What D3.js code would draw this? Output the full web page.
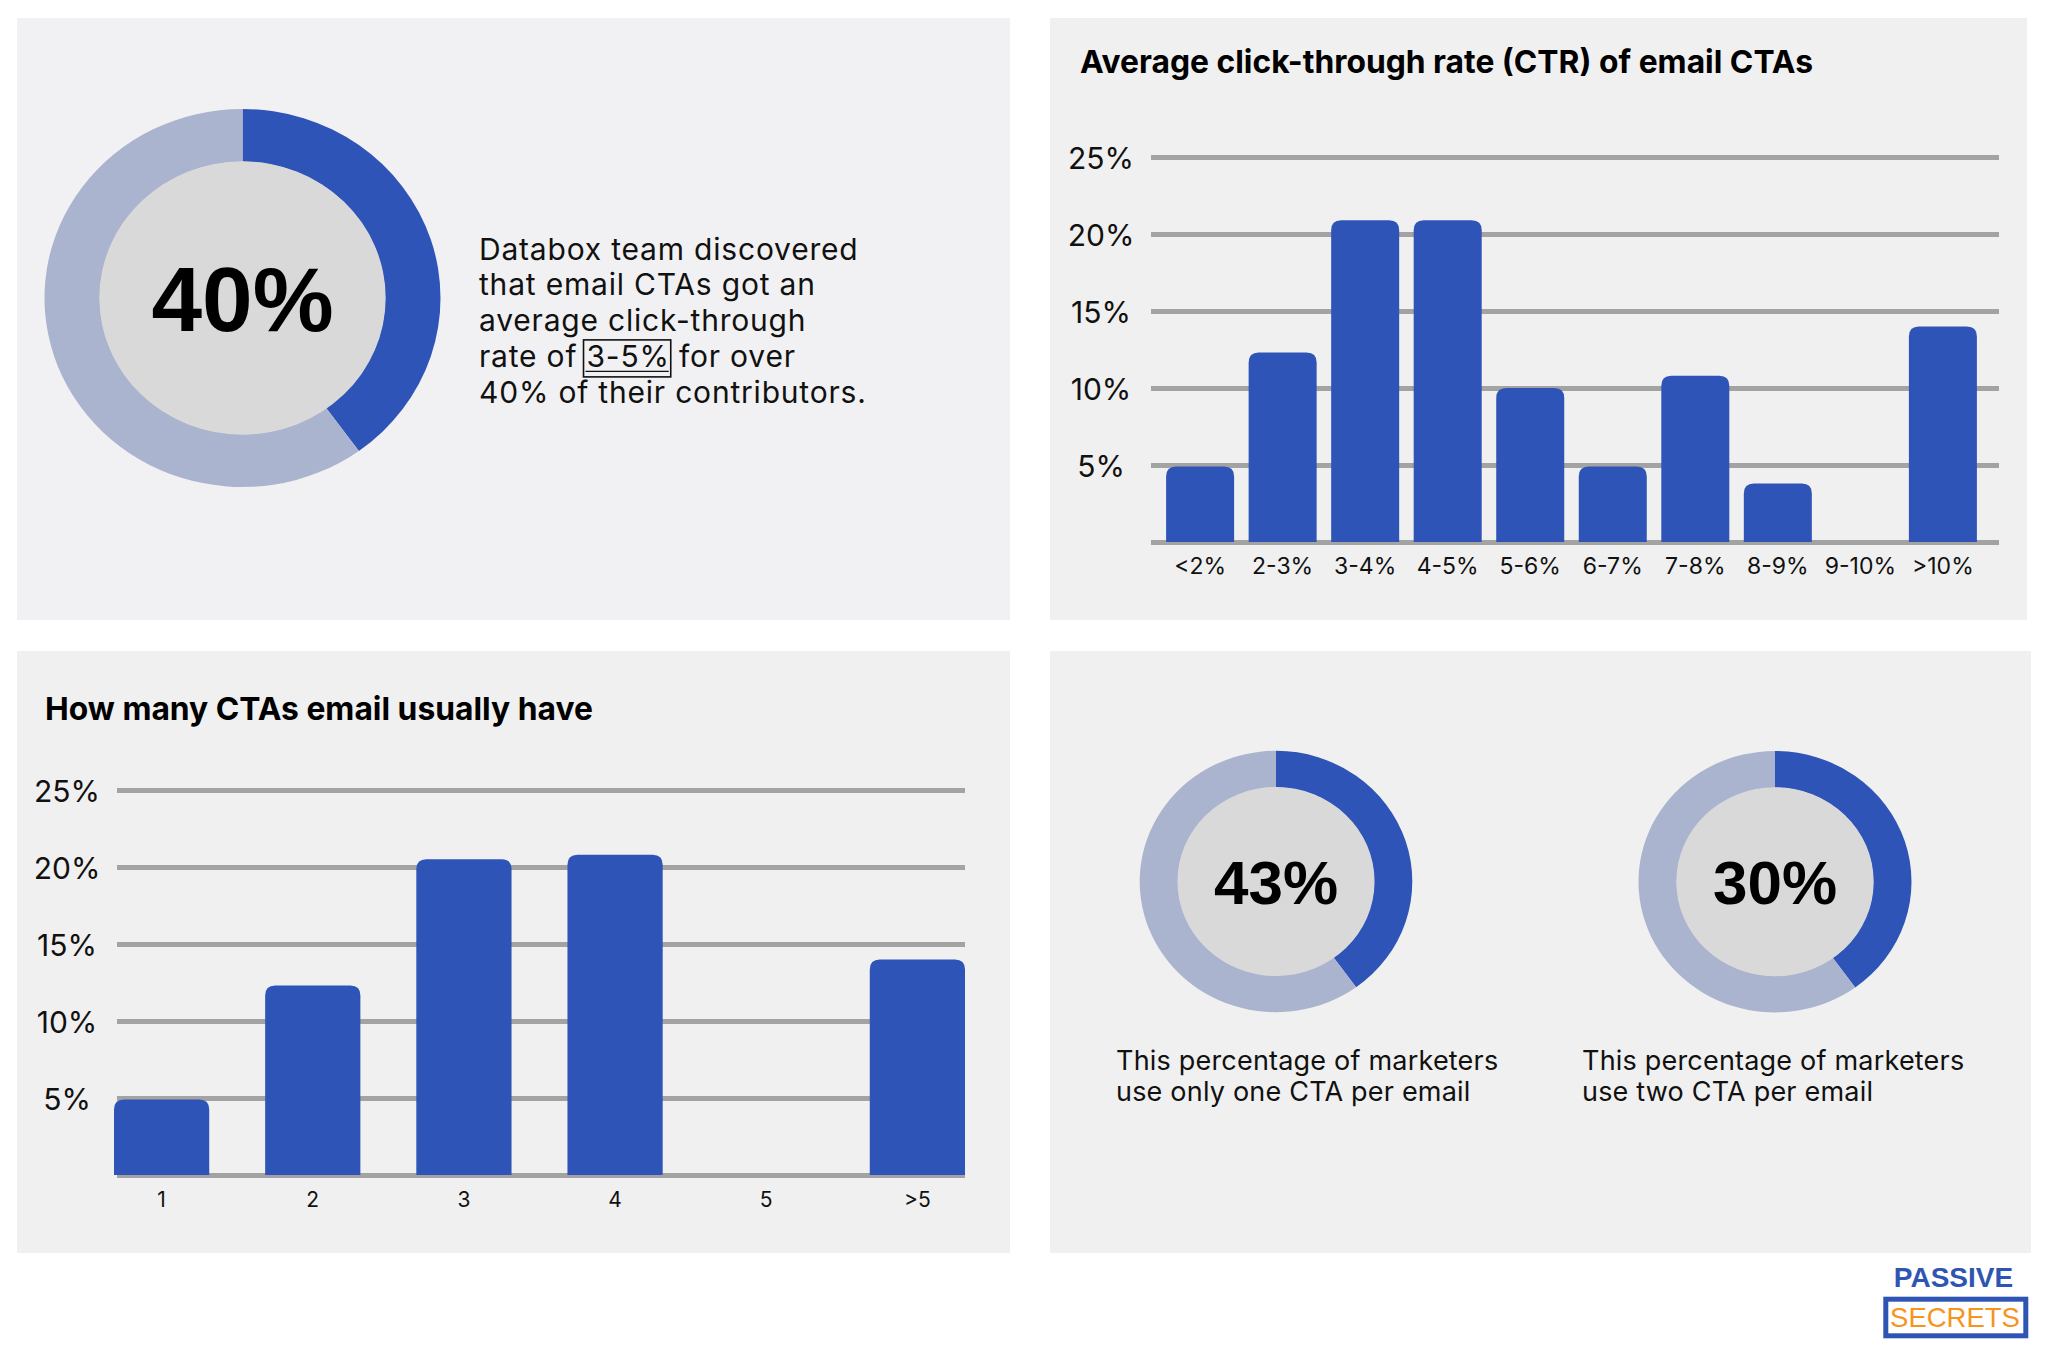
<!DOCTYPE html>
<html>
<head>
<meta charset="utf-8">
<script src="https://cdn.jsdelivr.net/npm/d3@7"></script>
<style>
  html, body { margin: 0; padding: 0; background: #ffffff; }
  svg { display: block; }
</style>
</head>
<body>
<svg id="chart" width="2048" height="1352"></svg>
<script>
// ---------------- DATA ----------------
const ctrCategories = ["<2%", "2-3%", "3-4%", "4-5%", "5-6%", "6-7%", "7-8%", "8-9%", "9-10%", ">10%"];
const ctrValues     = [4.9, 12.3, 20.9, 20.9, 10.0, 4.9, 10.8, 3.8, 0, 14.0];

const ctaCategories = ["1", "2", "3", "4", "5", ">5"];
const ctaValues     = [4.9, 12.3, 20.5, 20.8, 0, 14.0];

const yTickValues = [0, 5, 10, 15, 20, 25];

const donutLabels = ["40%", "43%", "30%"];
const donutShares = [40, 40, 40];   // blue share of ring as drawn in the picture

const ctrTitle = "Average click-through rate (CTR) of email CTAs";
const ctaTitle = "How many CTAs email usually have";
const heroLines = ["Databox team discovered", "that email CTAs got an", "average click-through", "rate of 3-5% for over", "40% of their contributors."];
const heroHighlight = "3-5%";
const captionsA = ["This percentage of marketers", "use only one CTA per email"];
const captionsB = ["This percentage of marketers", "use two CTA per email"];
const logoTop = "PASSIVE";
const logoBottom = "SECRETS";

// ---------------- STYLE ----------------
const BLUE = "#2e54b8";
const RING = "#abb4cf";
const DISC = "#d9d9d9";
const GRID = "#a3a3a3";
const INK = "#111111";
const SANS = "Inter, 'Noto Sans', sans-serif";
const ARIAL = "'Liberation Sans', Arial, sans-serif";

const svg = d3.select("#chart");

// panels
const panels = [
  {x: 17,   y: 18,  w: 993, h: 602, fill: "#f1f1f3"},
  {x: 1050, y: 18,  w: 977, h: 602, fill: "#f0f0f0"},
  {x: 17,   y: 651, w: 993, h: 602, fill: "#f0f0f0"},
  {x: 1050, y: 651, w: 981, h: 602, fill: "#f0f0f0"}
];
svg.selectAll("rect.panel").data(panels).join("rect")
  .attr("class", "panel")
  .attr("x", d => d.x).attr("y", d => d.y)
  .attr("width", d => d.w).attr("height", d => d.h)
  .attr("fill", d => d.fill);

// ---------------- DONUTS ----------------
function donut(cx, cy, rx, ry, share, label, fontSize) {
  const g = svg.append("g").attr("transform", `translate(${cx},${cy}) scale(1,${ry / rx})`);
  const inner = rx * 0.723;
  const pie = d3.pie().sort(null).value(d => d)([share, 100 - share]);
  const arc = d3.arc().innerRadius(inner - 0.5).outerRadius(rx);
  g.selectAll("path").data(pie).join("path")
    .attr("d", arc)
    .attr("fill", (d, i) => i === 0 ? BLUE : RING);
  g.append("circle").attr("r", inner).attr("fill", DISC);
  svg.append("text")
    .attr("x", cx).attr("y", cy + fontSize * 0.716 / 2)
    .attr("text-anchor", "middle")
    .attr("font-family", ARIAL).attr("font-weight", 700)
    .attr("font-size", fontSize).attr("fill", "#000")
    .text(label);
}
donut(242.5, 298, 198, 189, donutShares[0], donutLabels[0], 91);
donut(1276, 881.5, 136.3, 130.7, donutShares[1], donutLabels[1], 62);
donut(1775, 881.7, 136.5, 130.7, donutShares[2], donutLabels[2], 62);

// hero text
const heroX = 479, heroY0 = 259.5, heroStep = 35.8, heroSize = 30;
heroLines.forEach((line, i) => {
  const t = svg.append("text")
    .attr("x", heroX).attr("y", heroY0 + i * heroStep)
    .attr("font-family", SANS).attr("font-size", heroSize)
    .attr("letter-spacing", 0.8)
    .attr("fill", INK).style("white-space", "pre")
    .text(line);
  const k = line.indexOf(heroHighlight);
  if (k >= 0) {
    const node = t.node();
    const x0 = node.getStartPositionOfChar(k).x;
    const x1 = node.getEndPositionOfChar(k + heroHighlight.length - 1).x;
    const by = heroY0 + i * heroStep;
    svg.append("rect")
      .attr("x", x0 - 3).attr("y", by - 27)
      .attr("width", x1 - x0 + 4).attr("height", 37)
      .attr("fill", "none").attr("stroke", "#111").attr("stroke-width", 1.6);
    svg.append("line")
      .attr("x1", x0 - 1).attr("x2", x1 - 1)
      .attr("y1", by + 4.5).attr("y2", by + 4.5)
      .attr("stroke", "#111").attr("stroke-width", 1.4);
  }
});

// captions
[[1116, captionsA], [1582, captionsB]].forEach(([x, lines]) => {
  lines.forEach((line, i) => {
    svg.append("text")
      .attr("x", x).attr("y", 1070 + i * 31)
      .attr("font-family", SANS).attr("font-size", 27)
      .attr("letter-spacing", 0.2)
      .attr("fill", INK).text(line);
  });
});

// ---------------- BAR CHARTS ----------------
function topRoundedBar(x, y, w, h, r) {
  if (h <= 0) return "";
  r = Math.min(r, h, w / 2);
  return `M${x},${y + h} V${y + r} Q${x},${y} ${x + r},${y} H${x + w - r} Q${x + w},${y} ${x + w},${y + r} V${y + h} Z`;
}

function barChart(opts) {
  const g = svg.append("g");
  const y = d3.scaleLinear().domain([0, 25]).range([opts.y0, opts.y1]);
  const x = d3.scaleBand().domain(opts.categories)
    .range(opts.bandRange).paddingInner(opts.pi).paddingOuter(opts.po);

  // grid via axis
  const axis = d3.axisLeft(y).tickValues(yTickValues)
    .tickSize(-(opts.gx1 - opts.gx0))
    .tickFormat(d => d === 0 ? "" : d + "%");
  const ag = g.append("g").attr("transform", `translate(${opts.gx0},0)`).call(axis);
  ag.select(".domain").remove();
  ag.selectAll(".tick line").attr("stroke", GRID).attr("stroke-width", 5);
  ag.selectAll(".tick text")
    .attr("x", -50).attr("dy", null).attr("y", 0)
    .attr("dominant-baseline", "central")
    .attr("text-anchor", "middle")
    .attr("font-family", SANS).attr("font-size", 30)
    .attr("fill", INK);

  // bars
  g.selectAll("path.bar").data(opts.values).join("path")
    .attr("class", "bar")
    .attr("fill", BLUE)
    .attr("d", (d, i) => topRoundedBar(x(opts.categories[i]), y(d), x.bandwidth(), opts.y0 - y(d), 10));

  // x labels
  g.selectAll("text.xl").data(opts.categories).join("text")
    .attr("class", "xl")
    .attr("x", d => x(d) + x.bandwidth() / 2)
    .attr("y", opts.y0 + 32)
    .attr("text-anchor", "middle")
    .attr("font-family", SANS).attr("font-size", opts.xFont)
    .attr("fill", INK)
    .text(d => d);

  // title
  svg.append("text")
    .attr("x", opts.tx).attr("y", opts.ty)
    .attr("font-family", SANS).attr("font-weight", 700)
    .attr("font-size", 31.8).attr("fill", "#000")
    .text(opts.title);
}

barChart({
  categories: ctrCategories, values: ctrValues, title: ctrTitle,
  y0: 542, y1: 157, gx0: 1151, gx1: 1999,
  bandRange: [1151, 1992], pi: 0.176, po: 0.183,
  xFont: 23, tx: 1080, ty: 73
});

barChart({
  categories: ctaCategories, values: ctaValues, title: ctaTitle,
  y0: 1175, y1: 790, gx0: 117, gx1: 965,
  bandRange: [114, 965], pi: 0.37, po: 0,
  xFont: 21, tx: 45, ty: 720
});

// ---------------- LOGO ----------------
svg.append("text")
  .attr("x", 1953.5).attr("y", 1287)
  .attr("text-anchor", "middle")
  .attr("font-family", ARIAL).attr("font-weight", 700)
  .attr("font-size", 28).attr("fill", "#2f55b4")
  .text(logoTop);
svg.append("rect")
  .attr("x", 1885.8).attr("y", 1299.2).attr("width", 140).attr("height", 36.6)
  .attr("fill", "#ffffff").attr("stroke", "#2f55b4").attr("stroke-width", 5);
svg.append("text")
  .attr("x", 1955).attr("y", 1326.5)
  .attr("text-anchor", "middle")
  .attr("font-family", ARIAL)
  .attr("font-size", 27.5).attr("fill", "#f7941d")
  .text(logoBottom);
</script>
</body>
</html>
